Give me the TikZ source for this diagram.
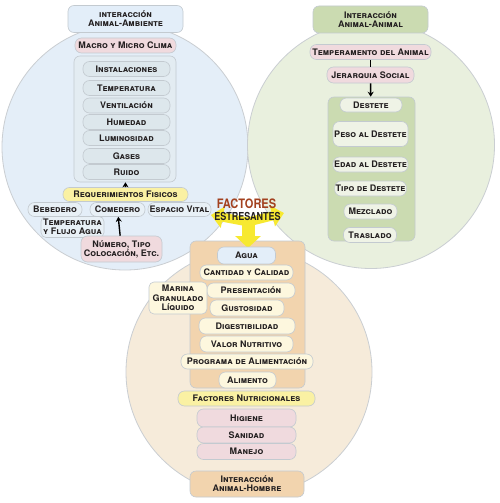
\documentclass[tikz,border=0pt]{standalone}
\usepackage{fontspec}
\setmainfont{TeX Gyre Heros}
\usetikzlibrary{positioning,arrows.meta}

\definecolor{circBlue}{HTML}{E4EEF8}
\definecolor{circGreen}{HTML}{E9F0DE}
\definecolor{circPeach}{HTML}{F6EBDA}
\definecolor{circEdge}{HTML}{CACED2}
\definecolor{boxEdge}{HTML}{C3CAD0}
\definecolor{titBlue}{HTML}{E3EEF9}
\definecolor{titGreen}{HTML}{CBDBB1}
\definecolor{titPeach}{HTML}{F2D4AE}
\definecolor{pinkBox}{HTML}{F0DADE}
\definecolor{grayBlue}{HTML}{E3ECF2}
\definecolor{itemBlue}{HTML}{DDE7EC}
\definecolor{lightBlue}{HTML}{E8F0F6}
\definecolor{yellowBox}{HTML}{FAF1A3}
\definecolor{creamBox}{HTML}{FDF7DE}
\definecolor{greenItem}{HTML}{EFF3E6}
\definecolor{arrowYellow}{HTML}{F7E930}
\definecolor{factRed}{HTML}{A3411F}
\definecolor{inkText}{HTML}{231F20}

\tikzset{
    every node/.style={text=inkText, font=\bfseries\scshape\fontsize{9}{9.2}\selectfont},
    circ/.style={draw=circEdge, line width=0.8pt},
    titlebox/.style={draw=boxEdge, line width=0.6pt, rounded corners=6pt, minimum width=115pt, minimum height=27pt, align=center, inner sep=1pt},
    pill/.style={draw=boxEdge, line width=0.6pt, rounded corners=6.5pt, minimum height=15pt, inner sep=1pt, align=center},
    grpbox/.style={draw=boxEdge, line width=0.6pt, rounded corners=6pt, inner sep=0pt},
    link/.style={line width=1.4pt, -{Stealth[length=5pt,width=6pt]}},
    yarrow/.style={draw=arrowYellow, line width=9pt, -{Triangle[length=12pt,width=21pt]}}
}

\begin{document}
\begin{tikzpicture}[x=1pt, y=-1pt]
    \useasboundingbox[fill=white] (0,0) rectangle (500,503);

    % the three circles
    \draw[circ, fill=circBlue] (125,147) circle (123);
    \draw[circ, fill=circGreen] (371,145) circle (123.5);
    \draw[circ, fill=circPeach] (249,372) circle (123);

    % animal - ambiente
    \node[titlebox, fill=titBlue] (titA) at (125.5,19) {interacción\\Animal-Ambiente};
    \node[pill, fill=pinkBox, minimum width=101pt] (clima) at (125.5,45.5) {Macro y Micro Clima};
    \node[grpbox, fill=grayBlue, minimum width=102pt, minimum height=126pt] (grpA) at (125,119) {};
    \node[pill, fill=itemBlue, minimum width=87pt] (inst) at (126.5,69) {Instalaciones};
    \node[pill, fill=itemBlue, minimum width=87pt] (temp) at (126.5,88) {Temperatura};
    \node[pill, fill=itemBlue, minimum width=87pt] (vent) at (126.5,105.5) {Ventilación};
    \node[pill, fill=itemBlue, minimum width=87pt] (hum) at (126.5,122) {Humedad};
    \node[pill, fill=itemBlue, minimum width=87pt] (lum) at (126.5,138) {Luminosidad};
    \node[pill, fill=itemBlue, minimum width=87pt] (gas) at (126.5,156) {Gases};
    \node[pill, fill=itemBlue, minimum width=87pt] (rui) at (126.5,172) {Ruido};
    \node[pill, fill=yellowBox, minimum width=125pt, minimum height=14pt] (req) at (125.5,194.5) {Requerimientos Fisicos};
    \node[pill, fill=lightBlue, minimum width=54pt, minimum height=14pt] (beb) at (55,209.5) {Bebedero};
    \node[pill, fill=lightBlue, minimum width=55pt, minimum height=14pt] (com) at (117.5,209.5) {Comedero};
    \node[pill, fill=lightBlue, minimum width=63pt, minimum height=14pt] (esp) at (179.5,209.5) {Espacio Vital};
    \node[pill, fill=lightBlue, minimum width=63pt, minimum height=21pt, rounded corners=5pt] (tfa) at (72.5,227) {Temperatura\\y Flujo Agua};
    \node[pill, fill=pinkBox, minimum width=81pt, minimum height=26pt] (num) at (121.5,249) {Número, Tipo\\Colocación, Etc.};
    \draw[link] (req) -- (grpA);
    \draw[link] (num) -- (com);

    % animal - animal
    \node[titlebox, fill=titGreen] (titB) at (370.5,19.5) {Interacción\\Animal-Animal};
    \node[pill, fill=pinkBox, minimum width=121pt] (tem) at (370.5,52) {Temperamento del Animal};
    \node[pill, fill=pinkBox, minimum width=87pt, minimum height=16pt] (jer) at (370.5,75) {Jerarquia Social};
    \node[grpbox, fill=titGreen, minimum width=87pt, minimum height=144pt] (grpB) at (371.5,169) {};
    \node[pill, fill=greenItem, minimum width=62pt, minimum height=14pt] (des) at (371,105) {Destete};
    \node[pill, fill=greenItem, minimum width=75pt, minimum height=25pt] (peso) at (370.5,134) {Peso al Destete};
    \node[pill, fill=greenItem, minimum width=75pt] (edad) at (370.5,164.5) {Edad al Destete};
    \node[pill, fill=greenItem, minimum width=71pt] (tipo) at (370.5,188.5) {Tipo de Destete};
    \node[pill, fill=greenItem, minimum width=53pt] (mez) at (370.5,211.5) {Mezclado};
    \node[pill, fill=greenItem, minimum width=53pt] (tras) at (370,235) {Traslado};
    \draw[line width=1.6pt] (tem) -- (jer);
    \draw[link] (jer) -- (grpB);

    % animal - hombre
    \node[grpbox, fill=titPeach, minimum width=115pt, minimum height=147pt] (grpC) at (247.5,314.5) {};
    \coordinate (fc) at (248,222);
    \coordinate (fl) at (211,215);
    \coordinate (fr) at (284,213);
    \coordinate (fd) at (248,248);
    \draw[yarrow] (fc) -- (fl);
    \draw[yarrow] (fc) -- (fr);
    \draw[yarrow, line width=13pt, -{Triangle[length=12pt,width=25pt]}] (fc) -- (fd);
    \node[text=factRed, font=\bfseries\fontsize{13}{13}\selectfont, xscale=0.85] (fact) at (246.5,204) {FACTORES};
    \node[font=\bfseries\fontsize{11}{11}\selectfont, xscale=0.82] (estr) at (247.5,216) {ESTRESANTES};
    \node[pill, fill=titBlue, minimum width=58pt, minimum height=17pt] (agua) at (246.5,255.5) {Agua};
    \node[pill, fill=creamBox, minimum width=93pt] (cant) at (246.5,272.5) {Cantidad y Calidad};
    \node[pill, fill=creamBox, minimum width=88pt] (pres) at (251,290.5) {Presentación};
    \node[pill, fill=creamBox, minimum width=58pt, minimum height=32pt, rounded corners=5pt] (mar) at (178,298) {Marina\\Granulado\\Líquido};
    \node[pill, fill=creamBox, minimum width=74pt, minimum height=16pt] (gus) at (247,308) {Gustosidad};
    \node[pill, fill=creamBox, minimum width=96pt, minimum height=16pt] (dig) at (247,326) {Digestibilidad};
    \node[pill, fill=creamBox, minimum width=93pt, minimum height=16pt] (val) at (246.5,344) {Valor Nutritivo};
    \node[pill, fill=creamBox, minimum width=132pt] (prog) at (247,361.5) {Programa de Alimentación};
    \node[pill, fill=creamBox, minimum width=57pt, minimum height=16pt] (ali) at (247.5,380) {Alimento};
    \node[pill, fill=yellowBox, minimum width=137pt] (nut) at (246.5,398.5) {Factores Nutricionales};
    \node[pill, fill=pinkBox, minimum width=99pt, minimum height=18pt] (hig) at (246.5,418) {Higiene};
    \node[pill, fill=pinkBox, minimum width=99pt, minimum height=16pt] (san) at (246.5,435) {Sanidad};
    \node[pill, fill=pinkBox, minimum width=99pt, minimum height=16pt] (man) at (246.5,451.5) {Manejo};
    \node[titlebox, fill=titPeach, minimum width=114pt, minimum height=26pt] (titC) at (247,484) {Interacción\\Animal-Hombre};
\end{tikzpicture}
\end{document}
